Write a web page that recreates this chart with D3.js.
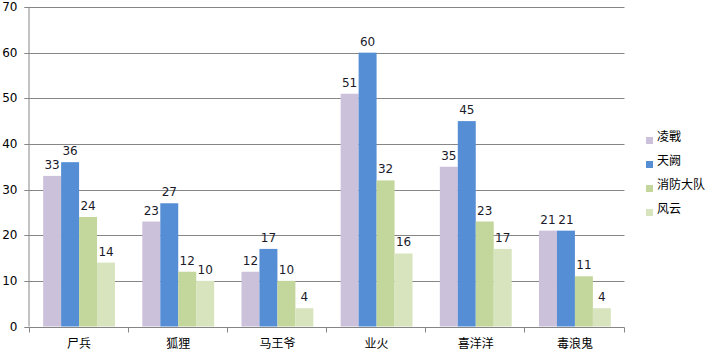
<!DOCTYPE html>
<html><head><meta charset="utf-8">
<script src="https://cdn.jsdelivr.net/npm/d3@7"></script>
<style>body{margin:0;background:#fff}svg{display:block}text{font-family:"DejaVu Sans","Noto Sans CJK SC",sans-serif}</style>
</head><body><svg id="c" width="708" height="355"></svg>
<script>
const categories = ["尸兵","狐狸","马王爷","业火","喜洋洋","毒浪鬼"];
const seriesNames = ["凌戰","天阙","消防大队","风云"];
const s1 = [33,23,12,51,35,21];
const s2 = [36,27,17,60,45,21];
const s3 = [24,12,10,32,23,11];
const s4 = [14,10,4,16,17,4];
const yTicks = [0,10,20,30,40,50,60,70];
const colors = ["#CCC1DA","#558ED5","#C3D69B","#D7E4BD"];
const series = [s1,s2,s3,s4];

const svg = d3.select("#c");
const pL = 29.5, pR = 624.5, pT = 7, pB = 326.5;
const x0 = d3.scaleBand().domain(categories).range([pL,pR]).padding(0);
const gap = 13.65;
const x1 = d3.scaleBand().domain(d3.range(4)).range([gap, x0.bandwidth()-gap]).padding(0);
const y = d3.scaleLinear().domain([0,70]).range([pB, pT]);

// grid
svg.append("g").selectAll("line").data(yTicks.slice(1)).join("line")
  .attr("x1",pL-5).attr("x2",pR).attr("y1",d=>Math.round(y(d))+0.5).attr("y2",d=>Math.round(y(d))+0.5)
  .attr("stroke","#868686").attr("stroke-width",1);

// bars
const g = svg.append("g");
categories.forEach((c,i)=>{
  series.forEach((s,j)=>{
    g.append("rect").attr("x",x0(c)+x1(j)).attr("width",x1.bandwidth())
      .attr("y",y(s[i])).attr("height",y(0)-y(s[i])).attr("fill",colors[j]);
    g.append("text").attr("x",x0(c)+x1(j)+x1.bandwidth()/2).attr("y",y(s[i])-7)
      .attr("text-anchor","middle").attr("font-size",12).attr("fill","#1a1a2a").text(s[i]);
  });
});

// y axis
const ya = svg.append("g").attr("transform",`translate(${pL},0)`)
  .call(d3.axisLeft(y).tickValues(yTicks).tickSize(5).tickPadding(7));
ya.select(".domain").attr("stroke","#868686").attr("d",`M-0.5,${pT}V${pB}`);
ya.selectAll(".tick line").attr("stroke","#868686");
ya.selectAll(".tick text").attr("font-size",12).attr("fill","#000").attr("font-family","DejaVu Sans");
ya.selectAll(".tick").attr("transform",d=>`translate(0,${Math.round(y(d))+0.5})`);

// x axis
const xa = svg.append("g").attr("transform",`translate(0,${Math.round(pB)+0.5})`);
xa.append("line").attr("x1",pL-5).attr("x2",pR).attr("stroke","#868686");
const bounds = categories.map(c=>x0(c)).concat([pR]);
xa.selectAll("line.t").data(bounds).join("line").attr("class","t")
  .attr("x1",d=>Math.round(d)-0.5).attr("x2",d=>Math.round(d)-0.5).attr("y1",0).attr("y2",5).attr("stroke","#868686");
xa.selectAll("text").data(categories).join("text")
  .attr("x",d=>x0(d)+x0.bandwidth()/2).attr("y",20).attr("text-anchor","middle")
  .attr("font-size",12).attr("font-family","Noto Sans CJK SC").attr("fill","#000").text(d=>d);

// legend
const lg = svg.append("g");
seriesNames.forEach((n,j)=>{
  const cy = 140.5 + j*24;
  lg.append("rect").attr("x",646).attr("y",cy-3.5).attr("width",7).attr("height",7).attr("fill",colors[j]);
  lg.append("text").attr("x",657).attr("y",cy-3).attr("dominant-baseline","middle")
    .attr("font-size",12).attr("font-family","Noto Sans CJK SC").attr("fill","#000").text(n);
});
</script></body></html>
